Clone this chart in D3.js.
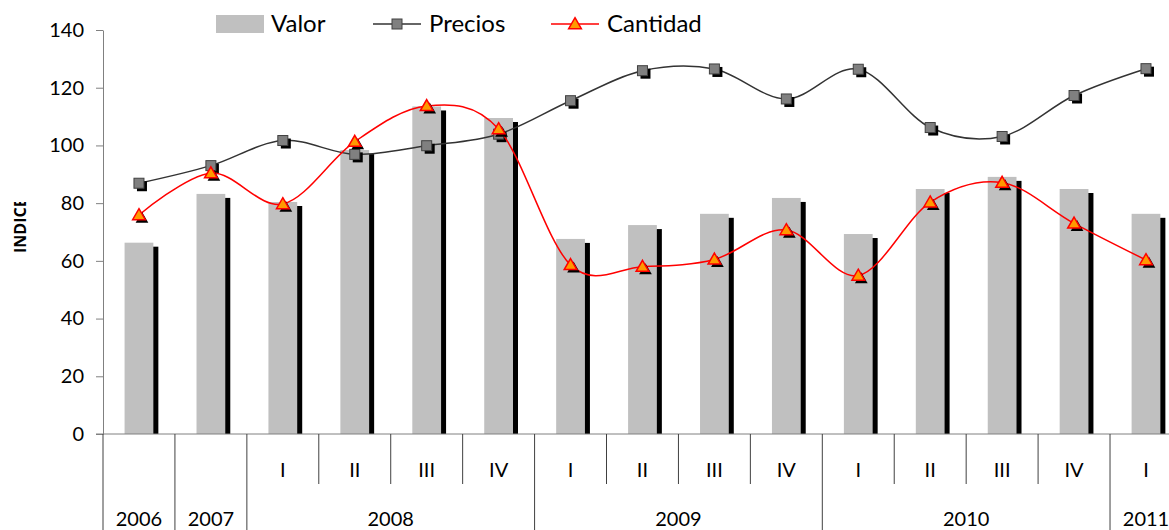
<!DOCTYPE html>
<html>
<head>
<meta charset="utf-8">
<script src="https://cdn.jsdelivr.net/npm/d3@7"></script>
<style>
  body { margin: 0; background: #fff; }
  svg { display: block; font-family: Lato, "Liberation Sans", sans-serif; }
</style>
</head>
<body>
<div id="chart"></div>
<script>
// categorias (trimestres / años)
const periodos = ["", "", "I", "II", "III", "IV", "I", "II", "III", "IV", "I", "II", "III", "IV", "I"];
const anios = ["2006", "2007", "2008", "2009", "2010", "2011"];
const aniosSpan = [1, 1, 4, 4, 4, 1];

const valor    = [66.3, 83.2, 80.4, 98.4, 113.5, 109.5, 67.6, 72.4, 76.3, 81.8, 69.3, 84.9, 89.1, 84.9, 76.3];
const precios  = [86.9, 93.0, 101.7, 96.9, 99.9, 103.9, 115.5, 125.9, 126.5, 116.1, 126.4, 106.2, 103.1, 117.3, 126.6];
const cantidad = [75.9, 90.4, 79.7, 101.3, 113.7, 105.7, 58.6, 58.0, 60.5, 70.7, 54.9, 80.3, 87.1, 73.0, 60.3];

const yTicks = [0, 20, 40, 60, 80, 100, 120, 140];

const W = 1169, H = 530;
const margin = {top: 30, left: 103, bottom: 96};
const plotW = 15 * 71.93;
const plotH = H - margin.top - margin.bottom;

const svg = d3.select("#chart").append("svg")
  .attr("width", W).attr("height", H);

const x = d3.scaleBand()
  .domain(d3.range(periodos.length))
  .range([margin.left, margin.left + plotW])
  .paddingInner(0).paddingOuter(0);

const y = d3.scaleLinear().domain([0, 140]).range([margin.top + plotH, margin.top]);

const barW = x.bandwidth() * 0.40;
const cx = i => x(i) + x.bandwidth() / 2;

// bars: shadow first, then gray
const bars = svg.append("g");
bars.selectAll("rect.sh").data(valor).join("rect")
  .attr("class", "sh")
  .attr("x", (d, i) => cx(i) - barW / 2 + 5)
  .attr("y", d => y(d) + 4)
  .attr("width", barW)
  .attr("height", d => y(0) - y(d) - 4)
  .attr("fill", "#000");
bars.selectAll("rect.v").data(valor).join("rect")
  .attr("class", "v")
  .attr("x", (d, i) => cx(i) - barW / 2)
  .attr("y", d => y(d))
  .attr("width", barW)
  .attr("height", d => y(0) - y(d))
  .attr("fill", "#C0C0C0");

// y axis
const yAxis = svg.append("g")
  .attr("transform", `translate(${margin.left},0)`)
  .call(d3.axisLeft(y).tickValues(yTicks).tickSize(7).tickPadding(12).tickSizeOuter(0));
yAxis.select(".domain").attr("stroke", "#808080");
yAxis.selectAll(".tick line").attr("stroke", "#808080");
yAxis.selectAll("text").attr("font-size", 20).attr("fill", "#000")
  .attr("font-family", "Lato");

// x axis baseline
svg.append("line")
  .attr("x1", margin.left - 7).attr("x2", margin.left + plotW)
  .attr("y1", y(0)).attr("y2", y(0))
  .attr("stroke", "#808080");

// category dividers
const yearStart = [];
let acc = 0;
aniosSpan.forEach(s => { yearStart.push(acc); acc += s; });
const divs = d3.range(periodos.length + 1);
svg.append("g").selectAll("line").data(divs).join("line")
  .attr("x1", i => x(0) + i * x.step()).attr("x2", i => x(0) + i * x.step())
  .attr("y1", y(0))
  .attr("y2", i => (yearStart.includes(i) || i === periodos.length) ? H : y(0) + 50)
  .attr("stroke", "#404040").attr("stroke-width", 1);

// quarter labels
svg.append("g").selectAll("text").data(periodos).join("text")
  .attr("x", (d, i) => cx(i))
  .attr("y", 477)
  .attr("text-anchor", "middle")
  .attr("font-size", 20)
  .text(d => d);

// year labels
svg.append("g").selectAll("text").data(anios).join("text")
  .attr("x", (d, i) => x(0) + (yearStart[i] + aniosSpan[i] / 2) * x.step())
  .attr("y", 526)
  .attr("text-anchor", "middle")
  .attr("font-size", 20)
  .text(d => d);

// y label (cut at the top like the original)
svg.append("clipPath").attr("id", "clipLbl")
  .append("rect").attr("x", 0).attr("y", 202).attr("width", 60).attr("height", 100);
svg.append("g").attr("clip-path", "url(#clipLbl)")
  .append("text")
  .attr("transform", "translate(26,253) rotate(-90)")
  .attr("font-size", 16)
  .attr("font-weight", "bold")
  .attr("font-family", "'Open Sans'")
  .text("INDICE");

// lines
const curve = d3.curveCardinal.tension(0);
const line = d3.line().x((d, i) => cx(i)).y(d => y(d)).curve(curve);

svg.append("path").datum(precios)
  .attr("d", line).attr("fill", "none")
  .attr("stroke", "#333").attr("stroke-width", 1.5);

const sq = 10;
const pg = svg.append("g");
pg.selectAll("rect.sh").data(precios).join("rect")
  .attr("class", "sh")
  .attr("x", (d, i) => cx(i) - sq / 2 + 3).attr("y", d => y(d) - sq / 2 + 3)
  .attr("width", sq).attr("height", sq).attr("fill", "#000");
pg.selectAll("rect.m").data(precios).join("rect")
  .attr("class", "m")
  .attr("x", (d, i) => cx(i) - sq / 2).attr("y", d => y(d) - sq / 2)
  .attr("width", sq).attr("height", sq)
  .attr("fill", "#808080").attr("stroke", "#404040").attr("stroke-width", 1);

svg.append("path").datum(cantidad)
  .attr("d", line).attr("fill", "none")
  .attr("stroke", "#FF0000").attr("stroke-width", 1.5);

const tri = d3.symbol().type(d3.symbolTriangle).size(70);
const cg = svg.append("g");
cg.selectAll("path.sh").data(cantidad).join("path")
  .attr("class", "sh")
  .attr("d", tri)
  .attr("transform", (d, i) => `translate(${cx(i) + 3},${y(d) + 4})`)
  .attr("fill", "#000");
cg.selectAll("path.m").data(cantidad).join("path")
  .attr("class", "m")
  .attr("d", tri)
  .attr("transform", (d, i) => `translate(${cx(i)},${y(d) + 1})`)
  .attr("fill", "#FF9900").attr("stroke", "#FF0000").attr("stroke-width", 1.5);

// legend
const lg = svg.append("g").attr("font-size", 24);
lg.append("rect").attr("x", 216).attr("y", 15).attr("width", 48).attr("height", 18).attr("fill", "#C0C0C0");
lg.append("text").attr("x", 271).attr("y", 32).text("Valor");

lg.append("line").attr("x1", 373).attr("x2", 421).attr("y1", 24).attr("y2", 24)
  .attr("stroke", "#333").attr("stroke-width", 1.5);
lg.append("rect").attr("x", 397 - sq / 2).attr("y", 24 - sq / 2).attr("width", sq).attr("height", sq)
  .attr("fill", "#808080").attr("stroke", "#404040");
lg.append("text").attr("x", 429).attr("y", 32).text("Precios");

lg.append("line").attr("x1", 551).attr("x2", 599).attr("y1", 24).attr("y2", 24)
  .attr("stroke", "#FF0000").attr("stroke-width", 1.5);
lg.append("path").attr("d", tri).attr("transform", "translate(575,25)")
  .attr("fill", "#FF9900").attr("stroke", "#FF0000").attr("stroke-width", 1.5);
lg.append("text").attr("x", 607).attr("y", 32).text("Cantidad");
</script>
</body>
</html>
